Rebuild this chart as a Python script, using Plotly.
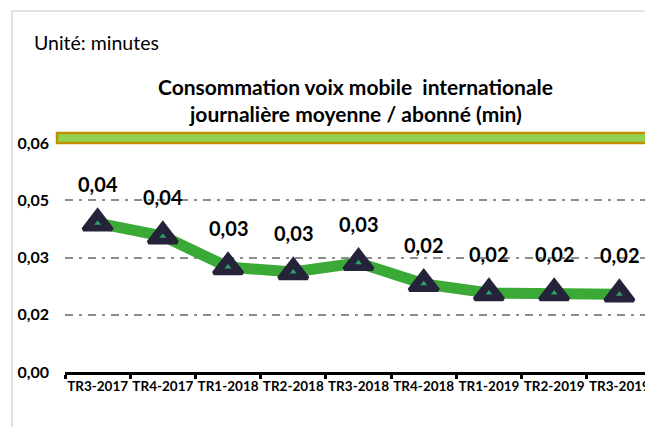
import plotly.graph_objects as go

categories = ["TR3-2017", "TR4-2017", "TR1-2018", "TR2-2018", "TR3-2018",
              "TR4-2018", "TR1-2019", "TR2-2019", "TR3-2019"]
values = [0.0390, 0.0356, 0.0275, 0.0262, 0.0286, 0.0231, 0.0207, 0.0207, 0.0204]
tick_vals = [0, 0.015, 0.03, 0.045, 0.06]
tick_text = ["0,00", "0,02", "0,03", "0,05", "0,06"]

FONT = "Lato"
OFF = 8  # page body margin
W, H = 653 - OFF, 427 - OFF
ML = 65 - OFF
MR = W - (652 - OFF)
MB = H - (372 - OFF)
MT = 131 - OFF
pw = W - ML - MR
ph = H - MT - MB
ymax = 0.06 * ph / 229.0

def px_x(p):
    return (p - OFF - ML) / pw

def px_y(p):
    return (H - MB - (p - OFF)) / ph

fig = go.Figure()
fig.add_trace(go.Scatter(
    x=categories, y=values, mode="lines+markers",
    line=dict(color="#3BA936", width=11),
    marker=dict(symbol="triangle-up", size=25, color="#25233A",
                line=dict(color="#25233A", width=4)),
    hoverinfo="skip", showlegend=False, cliponaxis=False))
fig.add_trace(go.Scatter(
    x=categories, y=values, mode="markers",
    marker=dict(symbol="triangle-up", size=6, color="#2E9E6B"),
    hoverinfo="skip", showlegend=False, cliponaxis=False))

for c, v in zip(categories, values):
    fig.add_annotation(x=c, y=v, text="<b>" + f"{v:.2f}".replace(".", ",") + "</b>",
                       showarrow=False, yshift=39,
                       font=dict(family=FONT, size=20, color="#000000", weight=900))

# band at top
fig.add_shape(type="rect", xref="paper", yref="y",
              x0=px_x(57), x1=1.02, y0=0.06, y1=0.06 * (372 - 133) / 229.0,
              fillcolor="#92D050", line=dict(color="#BF8F00", width=2.5), layer="above")
# outer border
fig.add_shape(type="rect", xref="paper", yref="paper",
              x0=px_x(12), x1=px_x(700), y0=px_y(460), y1=px_y(11),
              fillcolor="rgba(0,0,0,0)", line=dict(color="#D9D9D9", width=1.5))

fig.add_annotation(xref="paper", yref="paper", x=px_x(32), y=px_y(42),
                   xanchor="left", yanchor="middle", showarrow=False,
                   text="Unité: minutes",
                   font=dict(family=FONT, size=19.5, color="#000000"))
fig.add_annotation(xref="paper", yref="paper", x=px_x(355), y=px_y(86),
                   xanchor="center", yanchor="middle", showarrow=False,
                   text="<b>Consommation voix mobile  internationale</b>",
                   font=dict(family=FONT, size=21, color="#000000"))
fig.add_annotation(xref="paper", yref="paper", x=px_x(355), y=px_y(113),
                   xanchor="center", yanchor="middle", showarrow=False,
                   text="<b>journalière moyenne / abonné (min)</b>",
                   font=dict(family=FONT, size=21, color="#000000"))

fig.update_layout(
    width=W, height=H,
    margin=dict(l=ML, r=MR, t=MT, b=MB),
    paper_bgcolor="white", plot_bgcolor="white",
    separators=",.",
    font=dict(family=FONT, color="#000000"),
)
fig.update_xaxes(
    type="category", showgrid=False, showline=True, linecolor="#000000", linewidth=3,
    ticks="outside", tickson="boundaries", ticklen=4, tickwidth=3, tickcolor="#000000",
    tickvals=categories, ticktext=["<b>" + c + "</b>" for c in categories],
    tickangle=0, automargin=False,
    tickfont=dict(family=FONT, size=13.5, color="#000000"),
    range=[-0.5, 8.5], zeroline=False, fixedrange=True)
fig.update_yaxes(
    range=[0, ymax], tickvals=tick_vals, ticktext=["<b>" + t + "</b>" for t in tick_text],
    showgrid=True, gridcolor="#8C8C8C", gridwidth=2, griddash="8px,6px,3px,6px",
    zeroline=False, showline=False, ticks="", automargin=False,
    ticklabelstandoff=15,
    tickfont=dict(family=FONT, size=16, color="#000000"))

fig.write_html("out.html")
